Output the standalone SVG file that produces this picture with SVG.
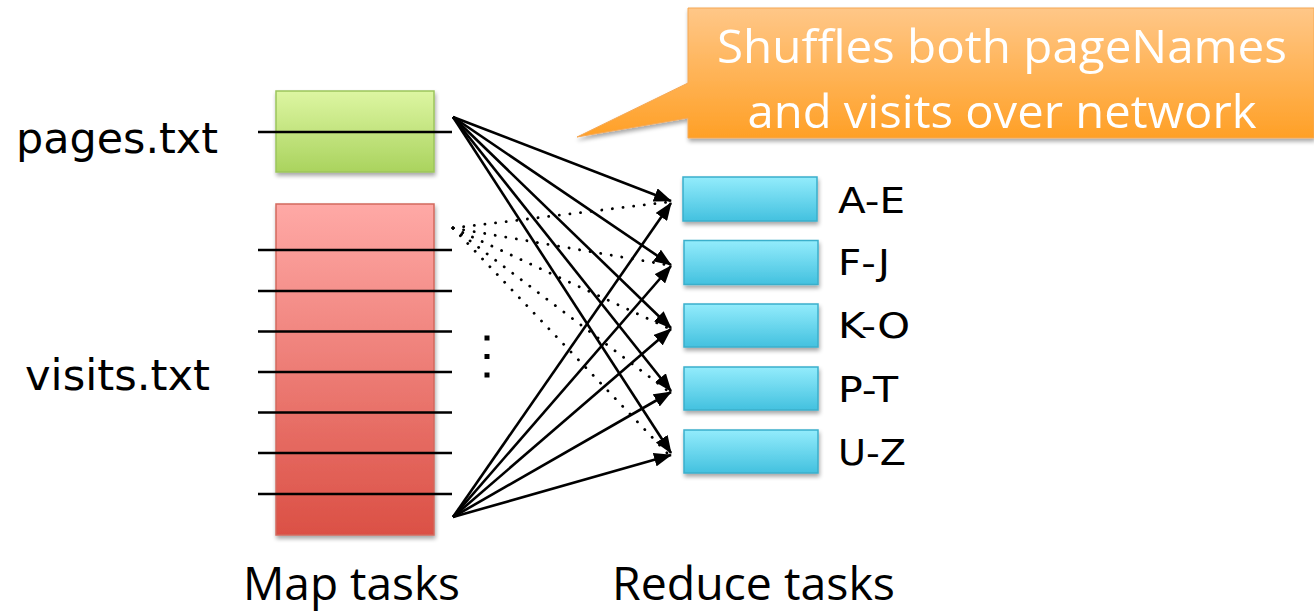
<svg xmlns="http://www.w3.org/2000/svg" width="1314" height="615" viewBox="0 0 1314 615">
  <defs>
    <linearGradient id="gGreen" x1="0" y1="0" x2="0" y2="1">
      <stop offset="0" stop-color="#DDF6A2"/>
      <stop offset="1" stop-color="#AAD35E"/>
    </linearGradient>
    <linearGradient id="gRed" x1="0" y1="0" x2="0" y2="1">
      <stop offset="0" stop-color="#FFA9A6"/>
      <stop offset="1" stop-color="#DB5045"/>
    </linearGradient>
    <linearGradient id="gBlue" x1="0" y1="0" x2="0" y2="1">
      <stop offset="0" stop-color="#93ECFC"/>
      <stop offset="1" stop-color="#43C1DF"/>
    </linearGradient>
    <linearGradient id="gOrange" x1="0" y1="0" x2="0" y2="1">
      <stop offset="0" stop-color="#FFC788"/>
      <stop offset="1" stop-color="#FFA026"/>
    </linearGradient>
    <filter id="shadow" x="-10%" y="-10%" width="125%" height="130%">
      <feGaussianBlur in="SourceAlpha" stdDeviation="2"/>
      <feOffset dx="1" dy="3" result="b"/>
      <feComponentTransfer><feFuncA type="linear" slope="0.35"/></feComponentTransfer>
      <feMerge><feMergeNode/><feMergeNode in="SourceGraphic"/></feMerge>
    </filter>
    <marker id="arrow" viewBox="0 0 18 14" refX="17" refY="7" markerWidth="18" markerHeight="14" markerUnits="userSpaceOnUse" orient="auto">
      <path d="M0,0 L18,7 L0,14 Z" fill="#000"/>
    </marker>
    <style>
      .lbl { font-family: "DejaVu Sans", "Liberation Sans", sans-serif; fill: #000; }
      .cap { font-family: "Open Sans", "Liberation Sans", sans-serif; fill: #000; }
      .call { font-family: "Open Sans", "Liberation Sans", sans-serif; fill: #fff; font-size: 46px; text-anchor: middle; }
      .split { stroke: #000; stroke-width: 2.5; }
      .solid { stroke: #000; stroke-width: 2.6; fill: none; marker-end: url(#arrow); }
      .dotted { stroke: #000; stroke-width: 2.8; fill: none; stroke-dasharray: 0.1 10.6; stroke-linecap: round; }
      .reducer { fill: url(#gBlue); stroke: #3AAFCB; stroke-width: 1.5; filter: url(#shadow); }
    </style>
  </defs>

  <!-- callout -->
  <g id="callout" filter="url(#shadow)">
    <path d="M688,8 H1314 V138 H688 V118 L577,137 L688,83 Z" fill="url(#gOrange)" stroke="#F5A855" stroke-width="1"/>
    <text class="call" x="1002" y="63" textLength="570" lengthAdjust="spacingAndGlyphs">Shuffles both pageNames</text>
    <text class="call" x="1002" y="128" textLength="509" lengthAdjust="spacingAndGlyphs">and visits over network</text>
  </g>

  <!-- pages.txt input -->
  <g id="pages">
    <rect x="276" y="91" width="158" height="81" fill="url(#gGreen)" stroke="#9CC55C" stroke-width="1.5" filter="url(#shadow)"/>
    <line class="split" x1="258" y1="132" x2="452" y2="132"/>
    <text class="lbl" x="16" y="153" font-size="43" textLength="202" lengthAdjust="spacingAndGlyphs">pages.txt</text>
  </g>

  <!-- visits.txt input -->
  <g id="visits">
    <rect x="276" y="204" width="158" height="331" fill="url(#gRed)" stroke="#D2695D" stroke-width="1.5" filter="url(#shadow)"/>
    <line class="split" x1="258" y1="250" x2="452" y2="250"/>
    <line class="split" x1="258" y1="291" x2="452" y2="291"/>
    <line class="split" x1="258" y1="331.5" x2="452" y2="331.5"/>
    <line class="split" x1="258" y1="372" x2="452" y2="372"/>
    <line class="split" x1="258" y1="412.5" x2="452" y2="412.5"/>
    <line class="split" x1="258" y1="453" x2="452" y2="453"/>
    <line class="split" x1="258" y1="494" x2="452" y2="494"/>
    <text class="lbl" x="25" y="390" font-size="43" textLength="185" lengthAdjust="spacingAndGlyphs">visits.txt</text>
  </g>

  <!-- vertical ellipsis between map splits -->
  <g id="ellipsis" fill="#000">
    <rect x="484.5" y="335.5" width="5" height="5"/>
    <rect x="484.5" y="354" width="5" height="5"/>
    <rect x="484.5" y="372.5" width="5" height="5"/>
  </g>

  <!-- reduce tasks -->
  <g id="reduce-ae">
    <rect class="reducer" x="683" y="177" width="134" height="44"/>
    <text class="lbl" x="838" y="213" font-size="36" textLength="67" lengthAdjust="spacingAndGlyphs">A-E</text>
  </g>
  <g id="reduce-fj">
    <rect class="reducer" x="684" y="240.5" width="134" height="44"/>
    <text class="lbl" x="838" y="275" font-size="36" textLength="52" lengthAdjust="spacingAndGlyphs">F-J</text>
  </g>
  <g id="reduce-ko">
    <rect class="reducer" x="684" y="304" width="134" height="43"/>
    <text class="lbl" x="838" y="338" font-size="36" textLength="72" lengthAdjust="spacingAndGlyphs">K-O</text>
  </g>
  <g id="reduce-pt">
    <rect class="reducer" x="684" y="367" width="134" height="43"/>
    <text class="lbl" x="838" y="402" font-size="36" textLength="60" lengthAdjust="spacingAndGlyphs">P-T</text>
  </g>
  <g id="reduce-uz">
    <rect class="reducer" x="684" y="430" width="134" height="43"/>
    <text class="lbl" x="838" y="465" font-size="36" textLength="68" lengthAdjust="spacingAndGlyphs">U-Z</text>
  </g>

  <!-- shuffle connectors -->
  <g id="connectors">
    <!-- visits splits (dotted) -->
    <path class="dotted" d="M453,228 L668,202"/>
    <path class="dotted" d="M453,228 L668,265"/>
    <path class="dotted" d="M453,228 L668,328"/>
    <path class="dotted" d="M453,228 L668,391"/>
    <path class="dotted" d="M453,228 L668,454"/>
    <!-- pages split -->
    <path class="solid" d="M453,117 L671,201"/>
    <path class="solid" d="M453,117 L671,265"/>
    <path class="solid" d="M453,117 L671,328"/>
    <path class="solid" d="M453,117 L671,391"/>
    <path class="solid" d="M453,117 L671,453"/>
    <!-- last visits split -->
    <path class="solid" d="M453,517 L671,203"/>
    <path class="solid" d="M453,517 L671,266"/>
    <path class="solid" d="M453,517 L671,329"/>
    <path class="solid" d="M453,517 L671,392"/>
    <path class="solid" d="M453,517 L671,455"/>
  </g>

  <!-- column captions -->
  <g id="captions">
    <text class="cap" x="243" y="600" font-size="45" textLength="217" lengthAdjust="spacingAndGlyphs">Map tasks</text>
    <text class="cap" x="612" y="600" font-size="45" textLength="283" lengthAdjust="spacingAndGlyphs">Reduce tasks</text>
  </g>
</svg>
